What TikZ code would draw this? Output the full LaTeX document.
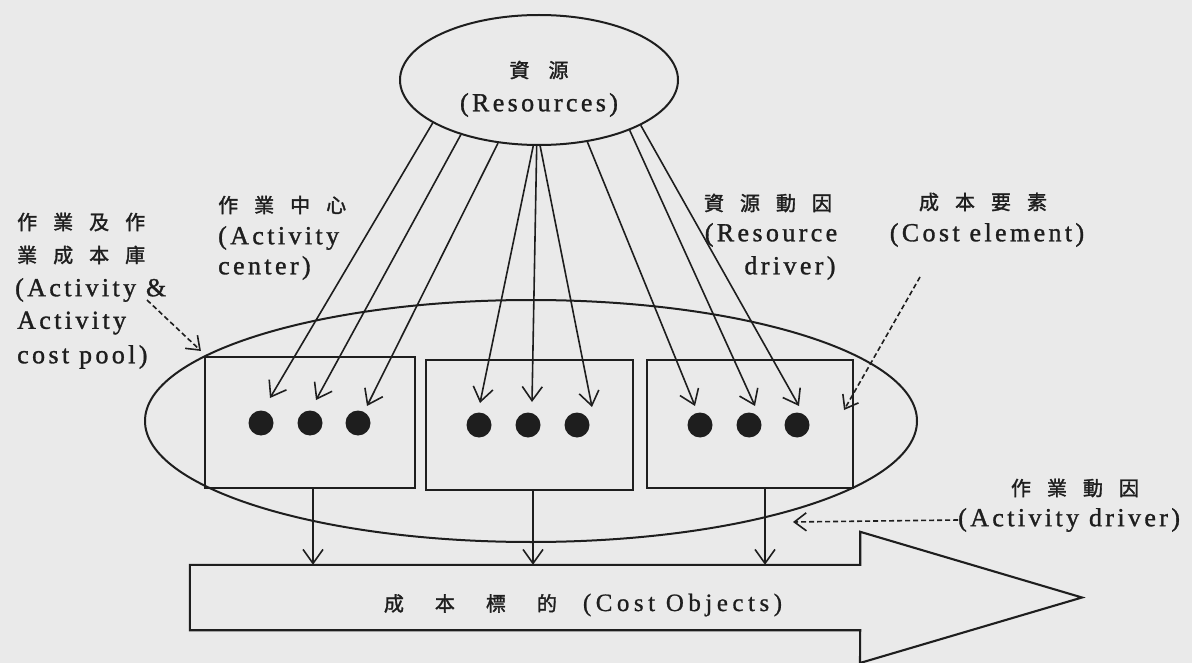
\documentclass[tikz,border=0pt]{standalone}
\usepackage{fontspec}
\setmainfont{Liberation Serif}
\newfontfamily\cjk[FakeBold=1.6]{Noto Sans CJK TC}
\newfontfamily\latsp[LetterSpace=13,FakeBold=1.2]{Liberation Serif}
\newfontfamily\latobj[LetterSpace=18,FakeBold=0.8]{Liberation Serif}
\usetikzlibrary{shapes.geometric,arrows.meta}
\newcommand{\cjkf}{\cjk\fontsize{20}{24}\selectfont}
\newcommand{\latf}{\latsp\fontsize{26}{30}\selectfont}
\newcommand{\gp}[1]{\hspace{#1pt}}
\definecolor{ink}{RGB}{30,30,30}
\definecolor{paper}{RGB}{234,234,234}
\begin{document}
\begin{tikzpicture}[x=1pt,y=-1pt,
  ell/.style={draw=ink, line width=2pt, ellipse, inner sep=0},
  box/.style={draw=ink, line width=2.1pt, inner sep=0},
  dot/.style={circle, fill=ink, minimum size=25pt, inner sep=0},
  arr/.style={draw=ink, line width=1.6pt, -{Straight Barb[length=14pt,width=20pt]}},
  darr/.style={draw=ink, line width=1.6pt, dash pattern=on 5pt off 3pt, -{Straight Barb[length=12pt,width=18pt]}},
  cjklab/.style={inner sep=0, font=\cjkf, text=ink},
  latlab/.style={inner sep=0, font=\latf, text=ink}]
\fill[paper] (0,0) rectangle (1192,663);
\useasboundingbox (0,0) rectangle (1192,663);

% ellipses
\node[ell, minimum width=278pt, minimum height=130pt] (res) at (539,80) {};
\node[ell, minimum width=772pt, minimum height=242pt] (pool) at (531,421) {};
\node[cjklab] (restxt1) at (539,70) {資\gp{19}源};
\node[latlab] (restxt2) at (539,105) {(Resources)};

% boxes
\node[box, minimum width=210pt, minimum height=131pt] (b1) at (310,422.5) {};
\node[box, minimum width=207pt, minimum height=130pt] (b2) at (529.5,425) {};
\node[box, minimum width=206pt, minimum height=128pt] (b3) at (750,424) {};

% dots
\node[dot] (d11) at (261,423) {};
\node[dot] (d12) at (310,423) {};
\node[dot] (d13) at (358,423) {};
\node[dot] (d21) at (479,425) {};
\node[dot] (d22) at (528,425) {};
\node[dot] (d23) at (577,425) {};
\node[dot] (d31) at (700,425) {};
\node[dot] (d32) at (749,425) {};
\node[dot] (d33) at (797,425) {};

% resource arrows
\draw[arr] (res.202) -- ([xshift=9pt,yshift=25pt]d11.center);
\draw[arr] (res.215) -- ([xshift=6pt,yshift=23pt]d12.center);
\draw[arr] (res.237) -- ([xshift=9pt,yshift=17pt]d13.center);
\draw[arr] (res.265) -- ([xshift=1pt,yshift=22pt]d21.center);
\draw[arr] (res.268) -- ([xshift=4pt,yshift=23pt]d22.center);
\draw[arr] (res.271) -- ([xshift=15pt,yshift=18pt]d23.center);
\draw[arr] (res.308) -- ([xshift=-5pt,yshift=19pt]d31.center);
\draw[arr] (res.331) -- ([xshift=6pt,yshift=19pt]d32.center);
\draw[arr] (res.336) -- ([xshift=2pt,yshift=19pt]d33.center);

% cost objects arrow
\node[inner sep=0, minimum width=670pt, minimum height=65pt] (shaft) at (525,597.5) {};
\draw[ink, line width=2.1pt, line join=miter] (shaft.north west) -- (shaft.north east) -- ++(0,-33)
  -- (1082,597.5) -- (860,663) -- (shaft.south east) -- (shaft.south west) -- cycle;
\node[inner sep=0, text=ink] (objtxt) at (583,605)
  {\cjkf 成\gp{31}本\gp{31}標\gp{31}的\gp{26}\latobj\fontsize{25}{28}\selectfont (Cost Objects)};

\draw[arr] ([xshift=3pt]b1.south) -- ([xshift=3pt]b1.south |- shaft.north);
\draw[arr] ([xshift=3.5pt]b2.south) -- ([xshift=3.5pt]b2.south |- shaft.north);
\draw[arr] ([xshift=15pt]b3.south) -- ([xshift=15pt]b3.south |- shaft.north);

% left label
\node[cjklab, anchor=west] (lp1) at (17,222) {作\gp{16}業\gp{16}及\gp{16}作};
\node[cjklab, anchor=west] (lp2) at (17,255) {業\gp{16}成\gp{16}本\gp{16}庫};
\node[latlab, anchor=west] (lp3) at (15,290) {(Activity \&};
\node[latlab, anchor=west] (lp4) at (17,323) {Activity};
\node[latlab, anchor=west] (lp5) at (17,357) {cost pool)};
\coordinate (apstart) at (147,300);
\draw[darr] (apstart) -- ([xshift=-3pt,yshift=5pt]b1.north west);

% activity center
\node[cjklab, anchor=west] (ac1) at (218,205) {作\gp{16}業\gp{16}中\gp{16}心};
\node[latlab, anchor=west] (ac2) at (218,238) {(Activity};
\node[latlab, anchor=west] (ac3) at (218,268) {center)};

% resource driver
\node[cjklab] (rd1) at (768,203) {資\gp{16}源\gp{16}動\gp{16}因};
\node[latlab] (rd2) at (771,235) {(Resource};
\node[latlab] (rd3) at (790,268) {driver)};

% cost element
\node[cjklab] (ce1) at (983,202) {成\gp{16}本\gp{16}要\gp{16}素};
\node[latlab] (ce2) at (987,235) {(Cost element)};
\coordinate (cestart) at (920,277);
\draw[darr] (cestart) -- ([xshift=-10pt,yshift=14pt]b3.east);

% activity driver
\node[cjklab] (ad1) at (1075,488) {作\gp{16}業\gp{16}動\gp{16}因};
\node[latlab, anchor=west] (ad2) at (958,520) {(Activity driver)};
\coordinate (adtip) at (793,522);
\draw[darr] (ad2.west) -- (adtip);
\end{tikzpicture}
\end{document}
